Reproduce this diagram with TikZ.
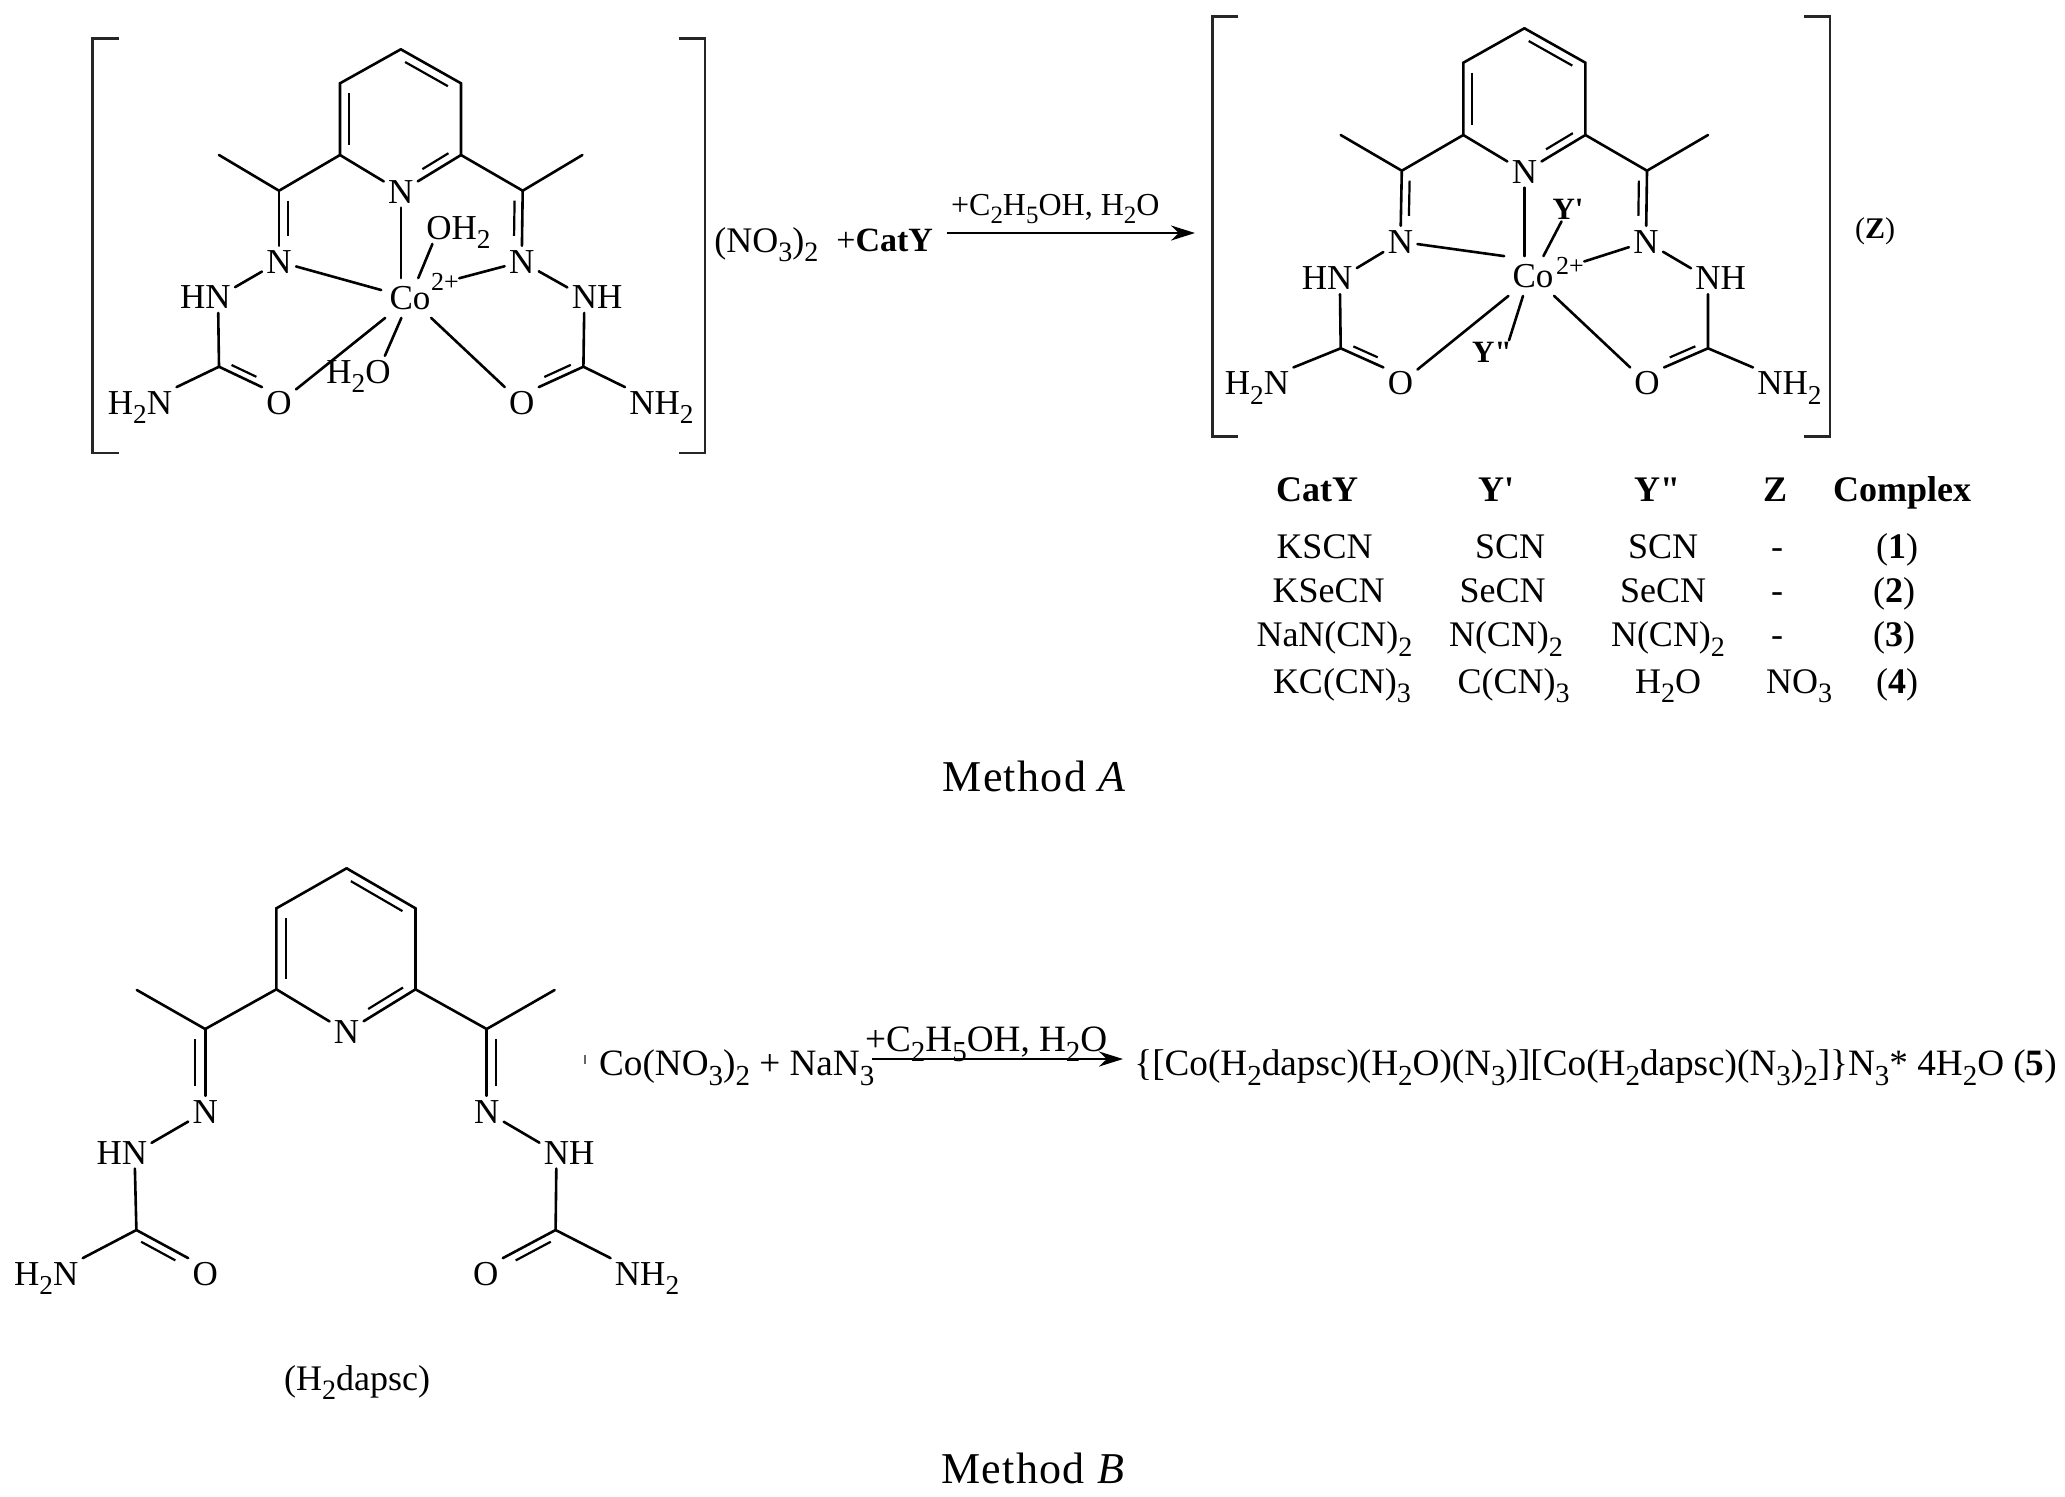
\documentclass[tikz,border=0pt]{standalone}
\usepackage{fontspec}
\usetikzlibrary{arrows.meta}
\setmainfont{Liberation Serif}
\newfontfamily\plainfont{Liberation Serif}
\newfontfamily\capfont{Liberation Serif}[LetterSpace=3]
\tikzset{
	atom/.style={font=\fontsize{17.5}{20}\selectfont, inner sep=2pt, text height=11.5pt, text depth=0pt},
	metal/.style={atom, inner sep=4pt},
	charge/.style={font=\fontsize{13}{15}\selectfont, inner sep=0pt, text height=8pt, text depth=0pt},
	ligand/.style={font=\plainfont\fontsize{15.5}{17}\bfseries\selectfont, inner sep=1pt, text height=10pt, text depth=0pt},
	cell/.style={font=\fontsize{18}{20}\selectfont, inner sep=0pt, anchor=base},
	head/.style={font=\plainfont\fontsize{18}{20}\bfseries\selectfont, inner sep=0pt, anchor=base},
	caption/.style={font=\capfont\fontsize{22}{24}\selectfont, inner sep=0pt, anchor=base},
	formula/.style={inner sep=0pt, anchor=base west},
	bond/.style={line width=1.3pt, line cap=round},
	bracket/.style={line width=1.4pt, draw=black!85},
	inner bond/.style 2 args={line width=1.1pt, shorten <=5pt, shorten >=5pt, transform canvas={shift={(#1*0.5pt,#2*-0.5pt)}}}
}
\newcommand{\sub}[1]{\raisebox{-.27em}{\scalebox{.78}{#1}}}
\begin{document}
\begin{tikzpicture}[x=0.5pt, y=-0.5pt, >={Stealth[length=12pt, width=7.5pt]}]
	\useasboundingbox (0,0) rectangle (2065,1496);
	
	% Left complex: points
	\coordinate (topA) at (400.8,49.3);
	\coordinate (ulA) at (340,83.3);
	\coordinate (urA) at (461,83.3);
	\coordinate (llA) at (340,155);
	\coordinate (lrA) at (461,155);
	\coordinate (clA) at (279,190.7);
	\coordinate (crA) at (522.7,190.7);
	\coordinate (mlA) at (219,155);
	\coordinate (mrA) at (582.4,155);
	\coordinate (ulowA) at (219,366.7);
	\coordinate (urowA) at (583.4,366.7);
	
	% Left complex: atoms
	\node[atom] (pyA) at (400.8,191.7) {N};
	\node[atom] (nlA) at (279,261.7) {N};
	\node[atom] (nrA) at (521.7,261.7) {N};
	\node[atom] (hnA) at (218,297) {\llap{H}N};
	\node[atom] (nhA) at (584.4,297) {N\rlap{H}};
	\node[metal] (coA) at (410,298) {Co};
	\node[charge] (chA) at (445,282) {2+};
	\node[atom] (olA) at (279,403) {O};
	\node[atom] (orA) at (521.7,403) {O};
	\node[atom] (h2nA) at (159.5,403) {\llap{H\sub{2}}N};
	\node[atom] (nh2A) at (642,403) {N\rlap{H\sub{2}}};
	\node[atom] (ohA) at (439,228) {O\rlap{H\sub{2}}};
	\node[atom] (hoA) at (378,371.7) {\llap{H\sub{2}}O};
	
	% Left complex: bonds
	\draw[bond] (topA) -- (ulA) -- (llA) -- (pyA);
	\draw[bond] (topA) -- (urA) -- (lrA) -- (pyA);
	\draw[inner bond={-4.4}{7.8}] (topA) -- (urA);
	\draw[inner bond={8.6}{0}] (ulA) -- (llA);
	\draw[inner bond={-4}{-7}] (lrA) -- (pyA);
	\draw[bond] (mlA) -- (clA) -- (llA);
	\draw[bond] (mrA) -- (crA) -- (lrA);
	\draw[bond] (clA) -- (nlA);
	\draw[bond] (crA) -- (nrA);
	\draw[inner bond={9}{0}] (clA) -- (nlA);
	\draw[inner bond={-8}{0}] (crA) -- (nrA);
	\draw[bond] (nlA) -- (hnA);
	\draw[bond] (nrA) -- (nhA);
	\draw[bond] (hnA) -- (ulowA) -- (h2nA.north east);
	\draw[bond] (nhA) -- (urowA) -- (nh2A.north west);
	\draw[bond] (ulowA) -- (olA.north west);
	\draw[bond] (urowA) -- (orA.north east);
	\draw[inner bond={3.5}{-6}] (ulowA) -- (olA.north west);
	\draw[inner bond={-3.5}{-6}] (urowA) -- (orA.north east);
	\draw[bond] (pyA) -- (pyA |- coA.north);
	\draw[bond] (ohA) -- (coA);
	\draw[bond] (hoA) -- (coA);
	\draw[bond] (nlA) -- (coA);
	\draw[bond] (nrA) -- (chA);
	\draw[bond] (olA) -- (coA);
	\draw[bond] (orA) -- (coA);
	
	% Left complex: brackets and counter ion
	\draw[bracket] (119,38.3) -- (92.3,38.3) -- (92.3,453) -- (119,453);
	\draw[bracket] (679,38.3) -- (705,38.3) -- (705,453) -- (679,453);
	\node[atom, formula, font=\fontsize{18}{20}\selectfont] (saltA) at (714,252) {(NO\sub{3})\sub{2}};
	\node[atom, formula, font=\fontsize{17}{20}\bfseries\selectfont] (catA) at (836,251) {\textmd{+}CatY};
	
	% Arrow of method A
	\coordinate (arrAstart) at (946.7,233);
	\coordinate (arrAend) at (1195,233);
	\draw[->, line width=1.3pt] (arrAstart) -- (arrAend);
	\node[atom, formula, font=\fontsize{16}{18}\selectfont] (condA) at (950.7,215) {+C\sub{2}H\sub{5}OH, H\sub{2}O};
	
	% Right complex: points
	\coordinate (topB) at (1524.4,28.3);
	\coordinate (ulB) at (1463.3,62.7);
	\coordinate (urB) at (1585.4,62.7);
	\coordinate (llB) at (1463.3,135);
	\coordinate (lrB) at (1585.4,135);
	\coordinate (clB) at (1401.8,170.7);
	\coordinate (crB) at (1647,170.7);
	\coordinate (mlB) at (1340.7,135);
	\coordinate (mrB) at (1708,135);
	\coordinate (ulowB) at (1340.7,348.3);
	\coordinate (urowB) at (1708,348.3);
	
	% Right complex: atoms
	\node[atom] (pyB) at (1524.4,171.7) {N};
	\node[atom] (nlB) at (1400.4,241.7) {N};
	\node[atom] (nrB) at (1646,241.7) {N};
	\node[atom] (hnB) at (1339.8,278.3) {\llap{H}N};
	\node[atom] (nhB) at (1708,278.3) {N\rlap{H}};
	\node[metal] (coB) at (1533,276) {Co};
	\node[charge] (chB) at (1570,266) {2+};
	\node[atom] (olB) at (1400.4,383.3) {O};
	\node[atom] (orB) at (1647,383.3) {O};
	\node[atom] (h2nB) at (1276.4,383.3) {\llap{H\sub{2}}N};
	\node[atom] (nh2B) at (1770,383.3) {N\rlap{H\sub{2}}};
	\node[ligand] (y1B) at (1568,209) {Y'};
	\node[ligand] (y2B) at (1492,352.7) {Y"};
	
	% Right complex: bonds
	\draw[bond] (topB) -- (ulB) -- (llB) -- (pyB);
	\draw[bond] (topB) -- (urB) -- (lrB) -- (pyB);
	\draw[inner bond={-4.4}{7.8}] (topB) -- (urB);
	\draw[inner bond={8.6}{0}] (ulB) -- (llB);
	\draw[inner bond={-4}{-7}] (lrB) -- (pyB);
	\draw[bond] (mlB) -- (clB) -- (llB);
	\draw[bond] (mrB) -- (crB) -- (lrB);
	\draw[bond] (clB) -- (nlB);
	\draw[bond] (crB) -- (nrB);
	\draw[inner bond={8}{0}] (clB) -- (nlB);
	\draw[inner bond={-8}{0}] (crB) -- (nrB);
	\draw[bond] (nlB) -- (hnB);
	\draw[bond] (nrB) -- (nhB);
	\draw[bond] (hnB) -- (ulowB) -- (h2nB.north east);
	\draw[bond] (nhB) -- (urowB) -- (nh2B.north west);
	\draw[bond] (ulowB) -- (olB.north west);
	\draw[bond] (urowB) -- (orB.north east);
	\draw[inner bond={3.5}{-6}] (ulowB) -- (olB.north west);
	\draw[inner bond={-3.5}{-6}] (urowB) -- (orB.north east);
	\draw[bond] (pyB) -- (pyB |- coB.north);
	\draw[bond] (y1B) -- (coB);
	\draw[bond] ([xshift=8.5pt]y2B.north) -- ([xshift=-5pt]coB.south);
	\draw[bond] (nlB) -- (coB.north west);
	\draw[bond] (nrB) -- (chB);
	\draw[bond] (olB) -- (coB);
	\draw[bond] (orB) -- (coB);
	
	% Right complex: brackets and counter ion
	\draw[bracket] (1238.3,16.7) -- (1212.1,16.7) -- (1212.1,436.7) -- (1238.3,436.7);
	\draw[bracket] (1804.4,16.7) -- (1830,16.7) -- (1830,436.7) -- (1804.4,436.7);
	\node[atom, inner sep=0pt, font=\fontsize{15}{18}\selectfont] (saltB) at (1875,227) {(\textbf{Z})};
	
	% Table
	\node[head] (h1) at (1317,501.7) {CatY};
	\node[head] (h2) at (1496,501.7) {Y'};
	\node[head] (h3) at (1657,501.7) {Y"};
	\node[head] (h4) at (1775,501.7) {Z};
	\node[head] (h5) at (1902,501.7) {Complex};
	
	\node[cell] (a1) at (1324.5,558) {KSCN};
	\node[cell] (b1) at (1510,558) {SCN};
	\node[cell] (c1) at (1663,558) {SCN};
	\node[cell] (d1) at (1777,558) {-};
	\node[cell] (e1) at (1897,558) {(\textbf{1})};
	
	\node[cell] (a2) at (1328.5,602.7) {KSeCN};
	\node[cell] (b2) at (1502.6,602.7) {SeCN};
	\node[cell] (c2) at (1663,602.7) {SeCN};
	\node[cell] (d2) at (1777,602.7) {-};
	\node[cell] (e2) at (1894,602.7) {(\textbf{2})};
	
	\node[cell] (a3) at (1334.5,646.7) {NaN(CN)\sub{2}};
	\node[cell] (b3) at (1506,646.7) {N(CN)\sub{2}};
	\node[cell] (c3) at (1668,646.7) {N(CN)\sub{2}};
	\node[cell] (d3) at (1777,646.7) {-};
	\node[cell] (e3) at (1894,646.7) {(\textbf{3})};
	
	\node[cell] (a4) at (1342,693) {KC(CN)\sub{3}};
	\node[cell] (b4) at (1513.6,693) {C(CN)\sub{3}};
	\node[cell] (c4) at (1668,693) {H\sub{2}O};
	\node[cell] (d4) at (1799,693) {NO\sub{3}};
	\node[cell] (e4) at (1897,693) {(\textbf{4})};
	
	% Captions
	\node[caption] (capA) at (1034.7,791.7) {Method \textit{A}};
	\node[caption] (capB) at (1033.5,1483.3) {Method \textit{B}};
	
	% Free ligand: points
	\coordinate (topC) at (346.6,868.3);
	\coordinate (ulC) at (276.4,908.3);
	\coordinate (urC) at (415.5,908.3);
	\coordinate (llC) at (276.4,989.3);
	\coordinate (lrC) at (415.5,989.3);
	\coordinate (clC) at (205.2,1029);
	\coordinate (crC) at (486.7,1029);
	\coordinate (mlC) at (136.8,990);
	\coordinate (mrC) at (554.6,990);
	\coordinate (ulowC) at (136.4,1230);
	\coordinate (urowC) at (555.6,1230);
	
	% Free ligand: atoms
	\node[atom] (pyC) at (346.6,1031.7) {N};
	\node[atom] (nlC) at (205.2,1111.7) {N};
	\node[atom] (nrC) at (486.7,1111.7) {N};
	\node[atom] (hnC) at (134.5,1152.7) {\llap{H}N};
	\node[atom] (nhC) at (556.5,1152.7) {N\rlap{H}};
	\node[atom] (olC) at (205.2,1274) {O};
	\node[atom] (orC) at (485.8,1274) {O};
	\node[atom] (h2nC) at (65.7,1274) {\llap{H\sub{2}}N};
	\node[atom] (nh2C) at (627.6,1274) {N\rlap{H\sub{2}}};
	\node[cell, font=\fontsize{18}{20}\selectfont] (nameC) at (357,1390) {(H\sub{2}dapsc)};
	
	% Free ligand: bonds
	\draw[bond] (topC) -- (ulC) -- (llC) -- (pyC);
	\draw[bond] (topC) -- (urC) -- (lrC) -- (pyC);
	\draw[inner bond={-4.4}{7.8}] (topC) -- (urC);
	\draw[inner bond={9.5}{0}] (ulC) -- (llC);
	\draw[inner bond={-4}{-7}] (lrC) -- (pyC);
	\draw[bond] (mlC) -- (clC) -- (llC);
	\draw[bond] (mrC) -- (crC) -- (lrC);
	\draw[bond] (clC) -- (nlC);
	\draw[bond] (crC) -- (nrC);
	\draw[inner bond={-10}{0}] (clC) -- (nlC);
	\draw[inner bond={9}{0}] (crC) -- (nrC);
	\draw[bond] (nlC) -- (hnC);
	\draw[bond] (nrC) -- (nhC);
	\draw[bond] (hnC) -- (ulowC) -- (h2nC.north east);
	\draw[bond] (nhC) -- (urowC) -- (nh2C.north west);
	\draw[bond] (ulowC) -- (olC.north west);
	\draw[bond] (urowC) -- (orC.north east);
	\draw[inner bond={-4}{7}] (ulowC) -- (olC.north west);
	\draw[inner bond={4}{7}] (urowC) -- (orC.north east);
	
	% Method B reaction
	\coordinate (markBtop) at (585,1055);
	\coordinate (markBbot) at (585,1064);
	\draw[line width=0.6pt, black!60] (markBtop) -- (markBbot);
	\coordinate (arrBstart) at (872,1059);
	\coordinate (arrBend) at (1123,1059);
	\draw[->, line width=1.3pt] (arrBstart) -- (arrBend);
	\node[formula, font=\fontsize{18.6}{20}\selectfont] (reac) at (598.7,1075) {Co(NO\sub{3})\sub{2} + NaN\sub{3}};
	\node[formula, font=\fontsize{18.6}{20}\selectfont] (condB) at (864.7,1051.7) {+C\sub{2}H\sub{5}OH, H\sub{2}O};
	\node[formula, font=\fontsize{18.6}{20}\selectfont] (prod) at (1134,1075) {\{[Co(H\sub{2}dapsc)(H\sub{2}O)(N\sub{3})][Co(H\sub{2}dapsc)(N\sub{3})\sub{2}]\}N\sub{3}* 4H\sub{2}O (\textbf{5})};
\end{tikzpicture}
\end{document}
